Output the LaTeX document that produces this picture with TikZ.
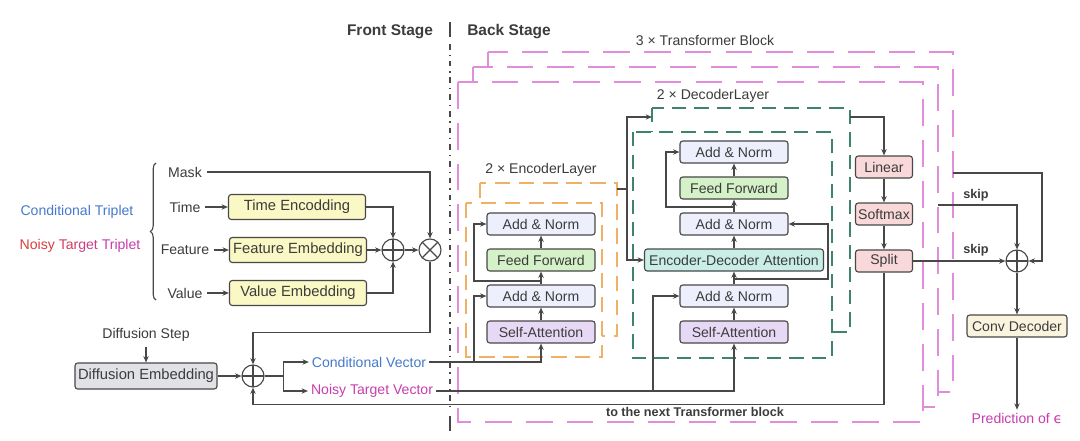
\documentclass[tikz,border=0pt]{standalone}
\usepackage{fontspec}
\setmainfont{Liberation Sans}
\newfontfamily\symfont{DejaVu Sans}
\usepackage{tikz}
\usetikzlibrary{arrows.meta,calc,decorations.pathreplacing}

\definecolor{line}{RGB}{72,72,72}
\definecolor{txt}{RGB}{60,60,60}
\definecolor{tpink}{RGB}{226,141,220}
\definecolor{eorange}{RGB}{240,176,102}
\definecolor{dgreen}{RGB}{62,132,104}
\definecolor{cblue}{RGB}{70,122,204}
\definecolor{nmag}{RGB}{200,62,172}
\definecolor{nred}{RGB}{214,62,62}
\definecolor{anfill}{RGB}{237,240,252}
\definecolor{fffill}{RGB}{212,241,200}
\definecolor{safill}{RGB}{231,217,246}
\definecolor{edafill}{RGB}{200,238,230}
\definecolor{headfill}{RGB}{248,216,216}
\definecolor{convfill}{RGB}{250,243,222}
\definecolor{embfill}{RGB}{250,248,196}
\definecolor{difffill}{RGB}{225,226,230}

\begin{document}
\begin{tikzpicture}[x=0.025cm,y=-0.025cm,
  every node/.style={font=\fontsize{10}{12}\selectfont, text=txt},
  box/.style={draw=line, line width=0.8pt, rounded corners=2pt, minimum height=0.55cm, inner sep=1pt},
  layer/.style={box, minimum width=2.7cm},
  addnorm/.style={layer, fill=anfill},
  ffbox/.style={layer, fill=fffill},
  sabox/.style={layer, fill=safill},
  embbox/.style={box, fill=embfill, minimum width=3.425cm, minimum height=0.625cm, font=\fontsize{10.5}{12}\selectfont},
  headbox/.style={box, fill=headfill, minimum width=1.425cm},
  opcirc/.style={circle, draw=line, line width=0.8pt, minimum size=0.55cm, inner sep=0pt},
  opsum/.style={opcirc, path picture={\draw[line width=0.8pt, draw=line]
      (path picture bounding box.north) -- (path picture bounding box.south)
      (path picture bounding box.west) -- (path picture bounding box.east);}},
  opmul/.style={opcirc, path picture={\draw[line width=0.8pt, draw=line]
      (path picture bounding box.north west) -- (path picture bounding box.south east)
      (path picture bounding box.north east) -- (path picture bounding box.south west);}},
  conn/.style={draw=line, line width=0.8pt},
  arr/.style={conn, -{Stealth[length=4.5pt,width=3.8pt]}},
  tframe/.style={draw=tpink, line width=1pt, dash pattern=on 19pt off 10pt, fill=white},
  eframe/.style={draw=eorange, line width=1pt, dash pattern=on 11pt off 6pt, fill=white},
  dframe/.style={draw=dgreen, line width=1pt, dash pattern=on 10pt off 6pt, fill=white},
  title/.style={font=\fontsize{11}{13}\selectfont\bfseries},
  note/.style={font=\fontsize{9}{11}\selectfont\bfseries},
]
\useasboundingbox (0,0) rectangle (1080,441);
\fill[white] (0,0) rectangle (1080,441);

%--- stage separator ------------------------------------------------------
\draw[line, line width=1.8pt] (450,22) -- (450,37) (450,416) -- (450,431);
\draw[line, line width=1.8pt, dash pattern=on 4pt off 3.5pt on 0.9pt off 3.5pt] (450,44) -- (450,410);
\node[title] (front) at (390,32) {Front Stage};
\node[title] (back)  at (509,32) {Back Stage};

%--- dashed block frames (back ones first) --------------------------------
\foreach \d in {2,1,0}{
  \draw[tframe] (458+15*\d,82-15*\d) rectangle (923+15*\d,422-15*\d);
}
\draw[eframe] (480,183) rectangle (617,336);
\draw[eframe] (466,203) rectangle (602,357);
\draw[dframe] (652,108) rectangle (850,332);
\draw[dframe] (633,132) rectangle (832,358);

\node (tblock) at (705,40) {3 × Transformer Block};
\node (elabel) at (541,170) {2 × EncoderLayer};
\node (dlabel) at (713,96) {2 × DecoderLayer};

%--- front stage ----------------------------------------------------------
\node[text=cblue] (ctrip) at (77,212) {Conditional Triplet};
\node (ntrip) at (80,246) {\textcolor{nred}{Noisy} \textcolor{nred!70!nmag}{Tar}\textcolor{nred!35!nmag}{get} \textcolor{nmag}{Triplet}};
\draw[conn, decorate, decoration={brace, amplitude=4pt}] (156,300) -- (156,163);

\node (mask)  at (185,172) {Mask};
\node (time)  at (185,207) {Time};
\node (feat)  at (185,250) {Feature};
\node (value) at (185,293) {Value};

\node[embbox] (tenc) at (297,207) {Time Encodding};
\node[embbox] (fenc) at (298,250) {Feature Embedding};
\node[embbox] (venc) at (298,293) {Value Embedding};
\node[opsum] (sumA) at (393,250) {};
\node[opmul] (mulA) at (430,250) {};

\draw[arr] (time) -- (tenc);
\draw[arr] (feat) -- (fenc);
\draw[arr] (value) -- (venc);
\draw[arr] (tenc.east) -| (sumA.north);
\draw[arr] (venc.east) -| (sumA.south);
\draw[arr] (fenc) -- (sumA);
\draw[arr] (sumA) -- (mulA);
\draw[arr] (mask.east) -| (mulA.north);

\node (dstep) at (146,335) {Diffusion Step};
\node[box, fill=difffill, minimum width=3.55cm, minimum height=0.65cm, font=\fontsize{10.5}{12}\selectfont] (demb) at (146,376) {Diffusion Embedding};
\node[opsum] (sumB) at (253,376) {};
\node[text=cblue, inner sep=2pt] (cvec) at (369,362) {Conditional Vector};
\node[text=nmag, inner sep=2pt] (nvec) at (372,391) {Noisy Target Vector};

\draw[arr] (dstep) -- (demb);
\draw[arr] (demb) -- (sumB);
\draw[arr] (mulA.south) -- ++(0,71) -| (sumB.north);
\draw[arr] (sumB.east) -- ++(19,0) |- (cvec.west);
\draw[arr] (sumB.east) -- ++(19,0) |- (nvec.west);

%--- encoder layer --------------------------------------------------------
\node[sabox]   (encSA)  at (541,332) {Self-Attention};
\node[addnorm] (encAN2) at (541,296) {Add \& Norm};
\node[ffbox]   (encFF)  at (541,260) {Feed Forward};
\node[addnorm] (encAN1) at (541,224) {Add \& Norm};

\foreach \a/\b in {encSA/encAN2, encAN2/encFF, encFF/encAN1}{
  \draw[arr] (\a) -- (\b);
}
\coordinate (cbr) at (474,362);
\coordinate (ejn) at (541,281);
\draw[arr] (cvec.east) -| (encSA.south);
\draw[arr] (cbr) |- (encAN2.west);
\draw[arr] (ejn) -- ++(-67,0) |- (encAN1.west);

%--- decoder layer --------------------------------------------------------
\node[sabox]   (decSA)  at (734,332) {Self-Attention};
\node[addnorm] (decAN1) at (734,296) {Add \& Norm};
\node[box, fill=edafill, minimum width=4.475cm] (decEDA) at (734,260) {Encoder-Decoder Attention};
\node[addnorm] (decAN2) at (734,224) {Add \& Norm};
\node[ffbox]   (decFF)  at (734,188) {Feed Forward};
\node[addnorm] (decAN3) at (734,152) {Add \& Norm};

\foreach \a/\b in {decSA/decAN1, decAN1/decEDA, decEDA/decAN2, decAN2/decFF, decFF/decAN3}{
  \draw[arr] (\a) -- (\b);
}
\coordinate (nbr) at (653,391);
\coordinate (djn1) at (734,279);
\coordinate (djn2) at (734,207);
\draw[arr] (nvec.east) -| (decSA.south);
\draw[arr] (nbr) |- (decAN1.west);
\draw[arr] (djn1) -- ++(94,0) |- (decAN2.east);
\draw[arr] (djn2) -- ++(-68,0) |- (decAN3.west);

% encoder output into decoder
\coordinate (encout) at (617,189);
\coordinate (decin) at (652,117);
\coordinate (decout) at (850,117);
\draw[arr] (encout) -- ++(10,0) |- (decin);
\draw[arr] (encout) -- ++(10,0) |- (decEDA.west);

%--- output head ----------------------------------------------------------
\node[headbox] (lin)   at (884,167) {Linear};
\node[headbox] (soft)  at (884,214) {Softmax};
\node[headbox] (split) at (884,261) {Split};
\node[opsum] (sumC) at (1017,261) {};
\node[box, fill=convfill, minimum width=2.5cm] (conv) at (1017,326) {Conv Decoder};
\node[text=nmag, inner sep=2pt] (pred) at (1017,418) {Prediction of {\symfont ϵ}};

\draw[arr] (decout) -| (lin.north);
\draw[arr] (lin) -- (soft);
\draw[arr] (soft) -- (split);
\draw[arr] (split) -- (sumC);
\draw[arr] (sumC) -- (conv);
\draw[arr] (conv) -- (pred);

\coordinate (sk1) at (953,173);
\coordinate (sk2) at (938,205);
\draw[arr] (sk1) -- ++(89,0) |- (sumC.east);
\draw[arr] (sk2) -| (sumC.north);
\node[note] (skipA) at (976,195) {skip};
\node[note] (skipB) at (976,250) {skip};

% back to the next block
\draw[arr] (split.south) -- ++(0,132) -| (sumB.south);
\node[note] (nextlbl) at (695,412) {to the next Transformer block};

\end{tikzpicture}
\end{document}
